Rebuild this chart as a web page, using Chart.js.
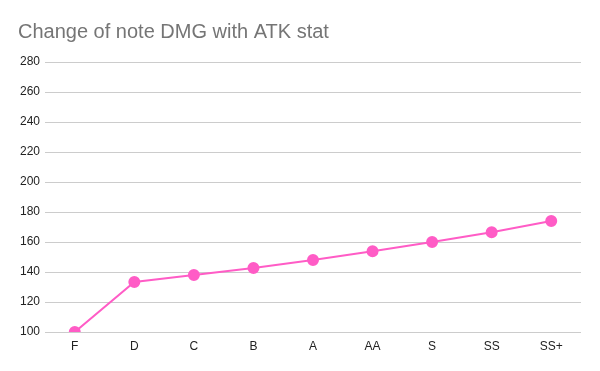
<!DOCTYPE html>
<html>
<head>
<meta charset="utf-8">
<script src="https://cdn.jsdelivr.net/npm/chart.js@4/dist/chart.umd.min.js"></script>
<style>
html,body{margin:0;padding:0;background:#fff;}
#wrap{width:600px;height:371px;position:relative;}
</style>
</head>
<body>
<div id="wrap"><canvas id="c" width="600" height="371"></canvas></div>
<script>
const categories = ["F","D","C","B","A","AA","S","SS","SS+"];
const damage = [100, 133.3, 138, 142.7, 148, 153.8, 160, 166.5, 174];
const yMin = 100, yMax = 280, yStep = 20;
const titleText = "Change of note DMG with ATK stat";

new Chart(document.getElementById('c'), {
  type: 'line',
  data: {
    labels: categories,
    datasets: [{
      data: damage,
      borderColor: '#ff5cc6',
      backgroundColor: '#ff5cc6',
      borderWidth: 2,
      pointRadius: 5,
      pointHoverRadius: 5,
      pointBackgroundColor: '#ff5cc6',
      pointBorderColor: '#ff5cc6',
      tension: 0
    }]
  },
  options: {
    responsive: false,
    animation: false,
    layout: { padding: { left: 18, right: 19, top: 0, bottom: 0 } },
    plugins: {
      legend: { display: false },
      tooltip: { enabled: false },
      title: {
        display: true,
        text: titleText,
        align: 'start',
        color: '#757575',
        font: { family: 'Liberation Sans, Arial, sans-serif', size: 20, weight: 'normal' },
        padding: { top: 20, bottom: 18 }
      }
    },
    scales: {
      x: {
        offset: true,
        grid: { display: false, drawTicks: false },
        border: { display: false },
        ticks: { color: '#222', padding: 7, font: { family: 'Liberation Sans, Arial, sans-serif', size: 12 } },
        afterFit: (s) => { s.height = 39; }
      },
      y: {
        min: yMin, max: yMax,
        grid: { color: '#cccccc', drawTicks: false },
        border: { display: false },
        ticks: { stepSize: yStep, color: '#222', padding: 5, font: { family: 'Liberation Sans, Arial, sans-serif', size: 12 } },
        afterFit: (s) => { s.width = 27; }
      }
    }
  }
});
</script>
</body>
</html>
